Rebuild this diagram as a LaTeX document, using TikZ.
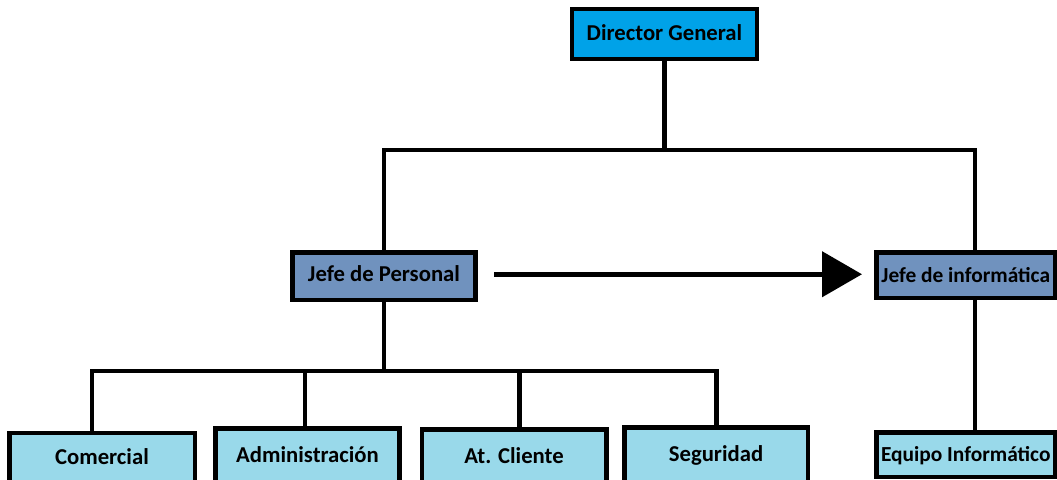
\documentclass[tikz,border=0pt]{standalone}
\usepackage{fontspec}
\setmainfont{Carlito}
\usetikzlibrary{arrows.meta,calc}
\definecolor{dgblue}{RGB}{0,162,232}
\definecolor{midblue}{RGB}{112,146,190}
\definecolor{lightblue}{RGB}{153,217,234}
\tikzset{
  box/.style={draw=black, line width=4.5pt, inner xsep=0pt, inner ysep=0pt, outer sep=0pt,
    anchor=north, minimum height=0pt, text=black,
    font=\bfseries\fontsize{22.7pt}{27pt}\selectfont},
  narrowtext/.style={font=\bfseries\fontsize{21.4pt}{26pt}\selectfont},
  topbox/.style={box, fill=dgblue},
  midbox/.style={box, fill=midblue},
  lowbox/.style={box, fill=lightblue},
  conn/.style={draw=black, line width=4.5pt, line join=miter}
}
\begin{document}
\begin{tikzpicture}[x=1pt,y=-1pt]
\useasboundingbox (0,0) rectangle (1057,479);
\clip (0,0) rectangle (1057,479);
\fill[white] (0,0) rectangle (1057,479);
% boxes
\node[topbox, minimum width=185pt, text height=31.5pt, text depth=18.5pt] (dg) at (664.5,9) {Director General};
\node[midbox, minimum width=183pt, text height=29.2pt, text depth=18.3pt] (jp) at (384,252.5) {Jefe de Personal};
\node[midbox, narrowtext, minimum width=178.5pt, text height=29.5pt, text depth=16pt] (ji) at (965.75,252.5) {Jefe de informática};
\node[lowbox, minimum width=185.5pt, text height=31pt, text depth=19pt] (com) at (102,433) {Comercial};
\node[lowbox, minimum width=184pt, text height=33.5pt, text depth=21pt] (adm) at (307.5,428.5) {Administración};
\node[lowbox, minimum width=184.5pt, text height=33.5pt, text depth=20pt] (atc) at (514,429.5) {At. Cliente};
\node[lowbox, minimum width=183.5pt, text height=34pt, text depth=21.5pt] (seg) at (716,427.5) {Seguridad};
\node[lowbox, narrowtext, minimum width=178.5pt, text height=29pt, text depth=15.5pt] (eq) at (965.75,432.5) {Equipo Informático};
% bus coordinates
\coordinate (bL) at (384,150);
\coordinate (bR) at (975,150);
\coordinate (c1) at (92,371);
\coordinate (c2) at (305,371);
\coordinate (c3) at (519.5,371);
\coordinate (c4) at (716.5,371);
\coordinate (e1) at (975,300);
\coordinate (a1) at ($(jp.east)+(18.5,-2)$);
\coordinate (a2) at ($(ji.west)+(-14.5,0)$);
% connectors
\draw[conn] (dg.south) -- (dg.south |- bL);
\draw[conn] (jp.north) -- (bL) -- (bR) -- (bR |- ji.north);
\draw[conn] (jp.south) -- (jp.south |- c1);
\draw[conn] (c1 |- com.north) -- (c1) -- (c4) -- (c4 |- seg.north);
\draw[conn] (c2) -- (c2 |- adm.north);
\draw[conn] (c3) -- (c3 |- atc.north);
\draw[conn] (e1 |- ji.south) -- (e1 |- eq.north);
\draw[conn, -{Triangle[length=40pt,width=45pt]}] (a1) -- (a2 |- a1);
\end{tikzpicture}
\end{document}
